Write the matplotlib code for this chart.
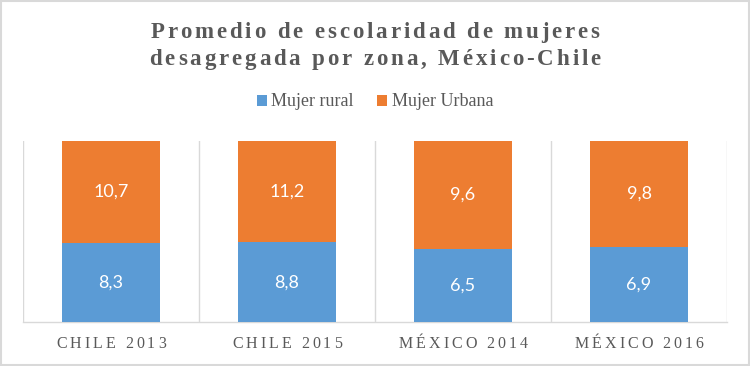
import matplotlib
matplotlib.use("Agg")
import matplotlib.pyplot as plt
from matplotlib.font_manager import FontProperties
from matplotlib.patches import Rectangle, Patch

categories = ["CHILE 2013", "CHILE 2015", "MÉXICO 2014", "MÉXICO 2016"]
rural = [8.3, 8.8, 6.5, 6.9]
urbana = [10.7, 11.2, 9.6, 9.8]
rural_labels = ["8,3", "8,8", "6,5", "6,9"]
urbana_labels = ["10,7", "11,2", "9,6", "9,8"]
series_names = ["Mujer rural", "Mujer Urbana"]
title_lines = ["Promedio de escolaridad de mujeres", "desagregada por zona, México-Chile"]

BLUE = "#5B9BD5"
ORANGE = "#ED7D31"
GRAY_TXT = "#595959"
GRID = "#D9D9D9"

W, H = 750, 366
fig = plt.figure(figsize=(W / 100, H / 100), dpi=100)
fig.patch.set_facecolor("white")
fig.add_artist(Rectangle((0.001, 0.002), 0.997, 0.995, transform=fig.transFigure,
                         fill=False, edgecolor=GRID, linewidth=1.5))

ax = fig.add_axes([23 / W, 1 - 322 / H, (727 - 23) / W, (322 - 141) / H])
x = list(range(len(categories)))
tot = [r + u for r, u in zip(rural, urbana)]
rf = [r / t for r, t in zip(rural, tot)]
uf = [u / t for u, t in zip(urbana, tot)]
bw = 0.557
ax.bar(x, rf, width=bw, color=BLUE, zorder=3)
ax.bar(x, uf, width=bw, bottom=rf, color=ORANGE, zorder=3)
for i in x:
    ax.text(i, rf[i] / 2, rural_labels[i], ha="center", va="center", color="white",
            fontsize=13, family="Lato", zorder=4)
    ax.text(i, rf[i] + uf[i] / 2, urbana_labels[i], ha="center", va="center", color="white",
            fontsize=13, family="Lato", zorder=4)
ax.set_xlim(-0.5, len(categories) - 0.5)
ax.set_ylim(0, 1)
for s in ["top", "right", "left"]:
    ax.spines[s].set_visible(False)
ax.spines["bottom"].set_color(GRID)
ax.spines["bottom"].set_linewidth(1)
ax.set_yticks([])
ax.set_xticks([i - 0.5 for i in range(len(categories) + 1)])
ax.set_xticklabels([])
ax.tick_params(axis="x", length=0)
ax.grid(axis="x", color=GRID, linewidth=1, zorder=0)

renderer = fig.canvas.get_renderer()


def char_width(c, prop):
    w1, _, _ = renderer.get_text_width_height_descent("|" + c + "|", prop, ismath=False)
    w0, _, _ = renderer.get_text_width_height_descent("||", prop, ismath=False)
    return w1 - w0


def spaced_text(cx, base_y, s, spacing, prop, color):
    widths = [char_width(c, prop) for c in s]
    total = sum(widths) + spacing * (len(s) - 1)
    xpos = cx - total / 2
    for c, w in zip(s, widths):
        fig.text(xpos / W, 1 - base_y / H, c, fontproperties=prop, color=color,
                 ha="left", va="baseline")
        xpos += w + spacing


title_prop = FontProperties(family="Liberation Serif", weight="bold", size=16.5)
spaced_text(375, 38, title_lines[0], 2.9, title_prop, GRAY_TXT)
spaced_text(375, 65, title_lines[1], 2.9, title_prop, GRAY_TXT)

cat_prop = FontProperties(family="Liberation Serif", size=11.5)
for i, c in enumerate(categories):
    px = ax.transData.transform((i, 0))[0]
    spaced_text(px, 348, c, 3.0, cat_prop, GRAY_TXT)

handles = [Patch(facecolor=BLUE), Patch(facecolor=ORANGE)]
fig.legend(handles, series_names, loc="center", bbox_to_anchor=(0.5, 1 - 102 / H), ncol=2,
           frameon=False, handlelength=0.55, handleheight=0.55, handletextpad=0.25,
           columnspacing=1.3, prop=FontProperties(family="Liberation Serif", size=13),
           labelcolor=GRAY_TXT)

fig.savefig("out.png", dpi=100)
